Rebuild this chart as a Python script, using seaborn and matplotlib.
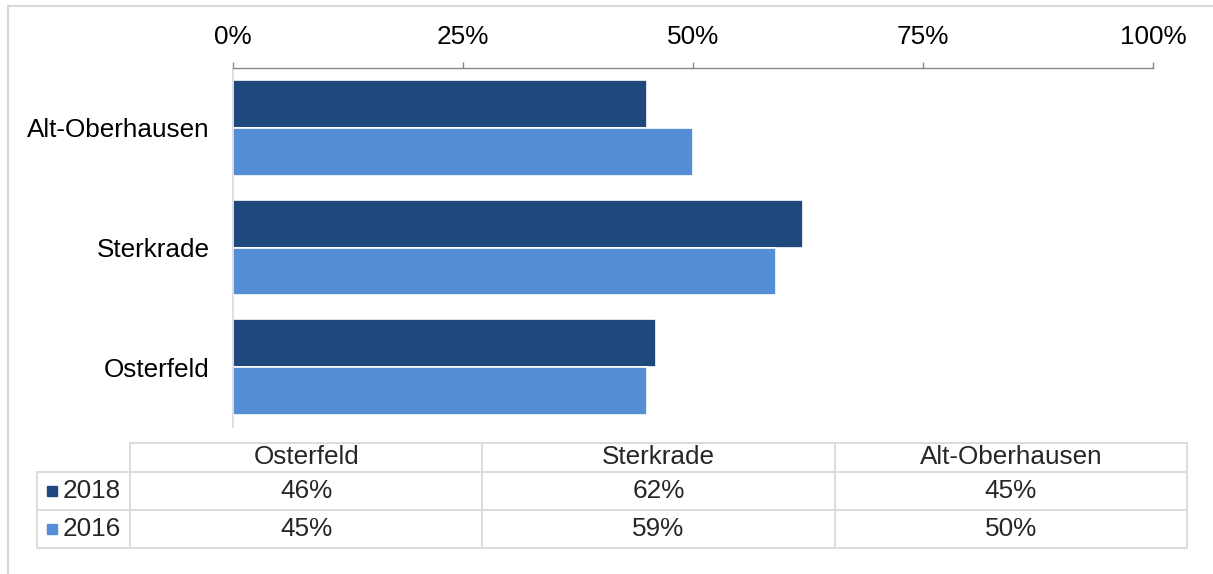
import pandas as pd
import seaborn as sns
import matplotlib.pyplot as plt
from matplotlib.patches import Rectangle
from matplotlib.ticker import FuncFormatter

# Data
table_order = ["Osterfeld", "Sterkrade", "Alt-Oberhausen"]
bar_order = ["Alt-Oberhausen", "Sterkrade", "Osterfeld"]
years = ["2018", "2016"]
values_2018 = [46, 62, 45]  # in table_order
values_2016 = [45, 59, 50]
colors = ["#1F497D", "#558ED5"]
x_ticks = [0, 25, 50, 75, 100]

rows = []
for year, vals in zip(years, [values_2018, values_2016]):
    for cat, v in zip(table_order, vals):
        rows.append({"Stadtteil": cat, "Jahr": year, "Anteil": v})
df = pd.DataFrame(rows)

sns.set_style("white")
plt.rcParams["font.family"] = ["Liberation Sans", "DejaVu Sans"]
FS = 18.8
GRID = "#D9D9D9"
AXIS = "#868686"

W, H = 1213, 574
fig = plt.figure(figsize=(W / 100, H / 100), dpi=100)

# overlay axes in pixel coordinates for border and data table
ov = fig.add_axes([0, 0, 1, 1])
ov.set_xlim(0, W)
ov.set_ylim(H, 0)
ov.axis("off")

# main bar chart
ax = fig.add_axes([233 / W, 1 - 427 / H, 920 / W, 359 / H])
ax.set_facecolor("none")
sns.barplot(data=df, y="Stadtteil", x="Anteil", hue="Jahr", order=bar_order,
            hue_order=years, palette=colors, saturation=1, orient="h", width=0.8,
            edgecolor="white", linewidth=1.2, legend=False, ax=ax)
ax.set_xlim(0, 100)
ax.set_ylim(2.5, -0.5)
ax.set_xlabel("")
ax.set_ylabel("")
ax.xaxis.tick_top()
ax.set_xticks(x_ticks)
ax.xaxis.set_major_formatter(FuncFormatter(lambda v, p: f"{v:.0f}%"))
ax.tick_params(axis="x", direction="out", length=4.5, width=1, color=AXIS,
               pad=9, labelsize=FS, labelcolor="black")
ax.tick_params(axis="y", length=0, pad=17, labelsize=FS, labelcolor="black")
for s in ["right", "bottom"]:
    ax.spines[s].set_visible(False)
ax.spines["top"].set_color(AXIS)
ax.spines["top"].set_linewidth(1)
ax.spines["left"].set_color(GRID)
ax.spines["left"].set_linewidth(1.2)

# outer chart border
ov.plot([8, 8], [6, H], color=GRID, lw=1.5)
ov.plot([8, W], [6, 6], color=GRID, lw=1.5)

# data table
lab_left, tbl_left, tbl_right = 37, 130, 1187
row_y = [443, 472, 510, 548]
col_w = (tbl_right - tbl_left) / len(table_order)
lw = 1.3
ov.plot([tbl_left, tbl_right], [row_y[0], row_y[0]], color=GRID, lw=lw)
for y in row_y[1:]:
    ov.plot([lab_left, tbl_right], [y, y], color=GRID, lw=lw)
ov.plot([lab_left, lab_left], [row_y[1], row_y[3]], color=GRID, lw=lw)
for i in range(len(table_order) + 1):
    x = tbl_left + i * col_w
    ov.plot([x, x], [row_y[0], row_y[3]], color=GRID, lw=lw)

for i, cat in enumerate(table_order):
    cx = tbl_left + (i + 0.5) * col_w
    ov.text(cx, (row_y[0] + row_y[1]) / 2, cat, ha="center", va="center", fontsize=FS)
for r, (year, vals, col) in enumerate(zip(years, [values_2018, values_2016], colors)):
    cy = (row_y[r + 1] + row_y[r + 2]) / 2
    ov.add_patch(Rectangle((47, cy - 5), 10, 10, color=col))
    ov.text(63, cy, year, ha="left", va="center", fontsize=FS)
    for i, v in enumerate(vals):
        cx = tbl_left + (i + 0.5) * col_w
        ov.text(cx, cy, f"{v}%", ha="center", va="center", fontsize=FS)

plt.savefig("out.png", dpi=100)
